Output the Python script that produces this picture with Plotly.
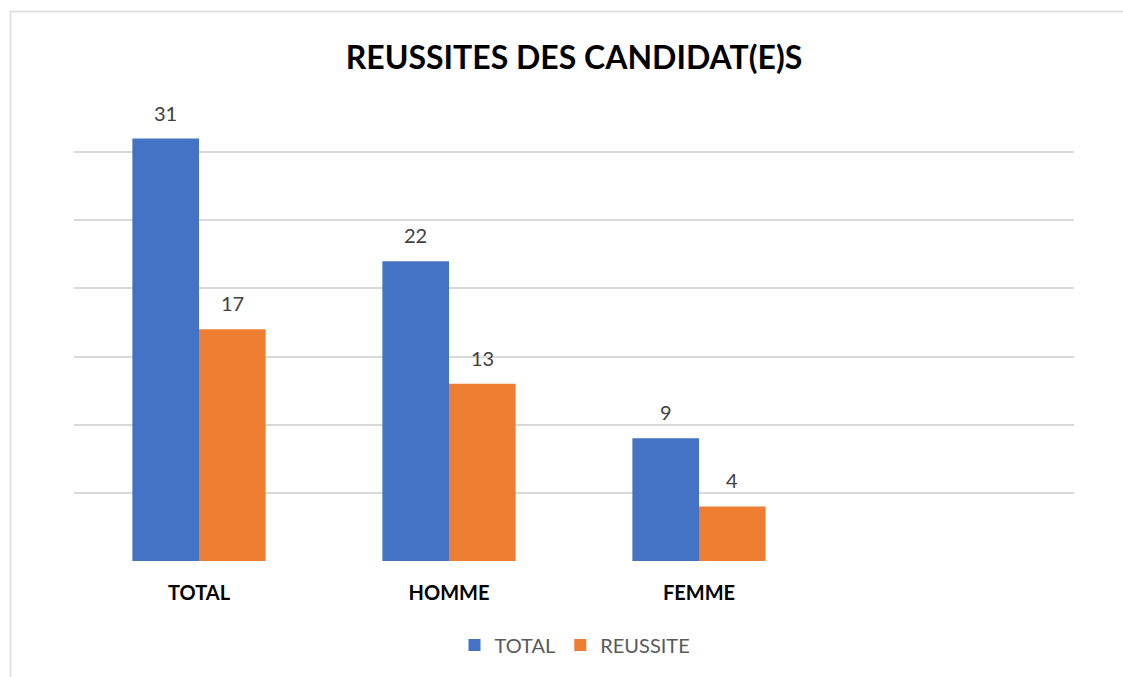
import plotly.graph_objects as go

categories = ["TOTAL", "HOMME", "FEMME", " "]
total_values = [31, 22, 9, None]
reussite_values = [17, 13, 4, None]
series_names = ["TOTAL", "REUSSITE"]
title_text = "REUSSITES DES CANDIDAT(E)S"

BLUE = "#4472C4"
ORANGE = "#ED7D31"
FONT = "Lato"

W, H = 1123, 677
L, R, T, B = 74, 49, 84, 116
plot_w = W - L - R
plot_h = H - T - B

def px_to_paper_x(px):
    return (px - L) / plot_w

def px_to_paper_y(py):
    return (H - B - py) / plot_h

fig = go.Figure()
fig.add_trace(go.Bar(x=categories, y=total_values, name=series_names[0],
                     marker=dict(color=BLUE, line=dict(width=0))))
fig.add_trace(go.Bar(x=categories, y=reussite_values, name=series_names[1],
                     marker=dict(color=ORANGE, line=dict(width=0))))

bar_half = plot_w / len(categories) * (1 - 0.467) / 4
for vals, sign in ((total_values, -1), (reussite_values, 1)):
    for c, v in zip(categories, vals):
        if v is None:
            continue
        fig.add_annotation(x=c, y=v, xref="x", yref="y", text=str(v),
                           showarrow=False, yanchor="bottom", yshift=12,
                           xshift=sign * bar_half,
                           font=dict(family=FONT, size=20, color="#404040"))

# outer chart frame (partially visible)
fig.add_shape(type="line", xref="paper", yref="paper",
              x0=px_to_paper_x(10.5), x1=px_to_paper_x(10.5),
              y0=px_to_paper_y(11), y1=px_to_paper_y(H + 5),
              line=dict(color="#D9D9D9", width=1.5))
fig.add_shape(type="line", xref="paper", yref="paper",
              x0=px_to_paper_x(10.5), x1=px_to_paper_x(W + 5),
              y0=px_to_paper_y(11.5), y1=px_to_paper_y(11.5),
              line=dict(color="#D9D9D9", width=1.5))

fig.update_layout(
    width=W, height=H,
    margin=dict(l=L, r=R, t=T, b=B, autoexpand=False),
    paper_bgcolor="white", plot_bgcolor="white",
    barmode="group", bargap=0.467, bargroupgap=0,
    title=dict(text="<b>" + title_text + "</b>", x=0.5, xref="paper",
               y=1 - 58 / H, yanchor="middle",
               font=dict(family=FONT, size=32, color="#000000")),
    legend=dict(orientation="h", x=px_to_paper_x(575), xanchor="center",
                y=px_to_paper_y(645), yanchor="middle",
                font=dict(family=FONT, size=20, color="#595959"),
                itemsizing="constant", traceorder="normal"),
    showlegend=True,
)
fig.update_xaxes(showgrid=False, showline=False, zeroline=False, ticks="",
                 tickfont=dict(family=FONT, size=20, color="#000000"),
                 ticklabelstandoff=18, tickprefix="<b>", ticksuffix="</b>")
fig.update_yaxes(range=[0, 35], tickvals=[0, 5, 10, 15, 20, 25, 30],
                 showticklabels=False, showgrid=True, gridcolor="#D9D9D9",
                 gridwidth=1.5, zeroline=False, showline=False)

fig.write_html(
    "out.html",
    config={"displayModeBar": False},
    post_script="document.body.style.margin='0';document.body.style.overflow='hidden';",
)
